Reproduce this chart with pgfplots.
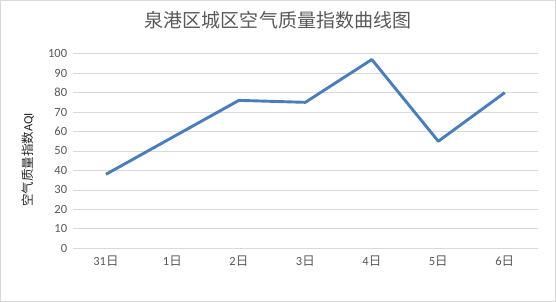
\documentclass[border=0pt]{standalone}
\usepackage{fontspec}
\usepackage{pgfplots}
\pgfplotsset{compat=1.18}
\setmainfont{Carlito}
\newfontfamily\cjk{Noto Sans CJK SC}
\definecolor{lineblue}{HTML}{4A7EBB}
\definecolor{gridgray}{HTML}{D9D9D9}
\definecolor{textgray}{HTML}{595959}
\definecolor{labelgray}{HTML}{262626}
\begin{document}
\begin{tikzpicture}
\draw[gridgray, line width=0.75bp] (0.4bp,0.4bp) rectangle (555.6bp,301.6bp);
\begin{axis}[
  at={(72.7bp,53.7bp)}, anchor=south west,
  scale only axis, width=465.3bp, height=194.6bp,
  xmin=-0.5, xmax=6.5, ymin=0, ymax=100,
  xtick={0,1,2,3,4,5,6},
  xticklabels={{31{\cjk 日}},{1{\cjk 日}},{2{\cjk 日}},{3{\cjk 日}},{4{\cjk 日}},{5{\cjk 日}},{6{\cjk 日}}},
  ytick={0,10,...,100},
  ymajorgrids, grid style={gridgray, line width=0.75bp},
  axis x line*=bottom, axis y line*=left,
  y axis line style={draw=none},
  x axis line style={gridgray, line width=0.75bp, -},
  major tick length=0pt, tick style={draw=none},
  /pgf/number format/assume math mode=true,
  tick label style={text=textgray, font=\fontsize{12.5bp}{12.5bp}\selectfont},
  yticklabel style={xshift=-2bp},
  xticklabel style={yshift=-4bp},
  clip=false,
]
\addplot[lineblue, line width=2.9bp, line join=round] coordinates {
  (0,38) (1,57) (2,76) (3,75) (4,97) (5,55) (6,80)
};
\end{axis}
\node[text=textgray, font=\cjk\fontsize{19bp}{19bp}\selectfont] at (278bp,282bp) {泉港区城区空气质量指数曲线图};
\node[text=labelgray, rotate=90, font=\fontsize{12.5bp}{12.5bp}\selectfont] at (28bp,142bp) {{\cjk 空气质量指数}AQI};
\end{tikzpicture}
\end{document}
